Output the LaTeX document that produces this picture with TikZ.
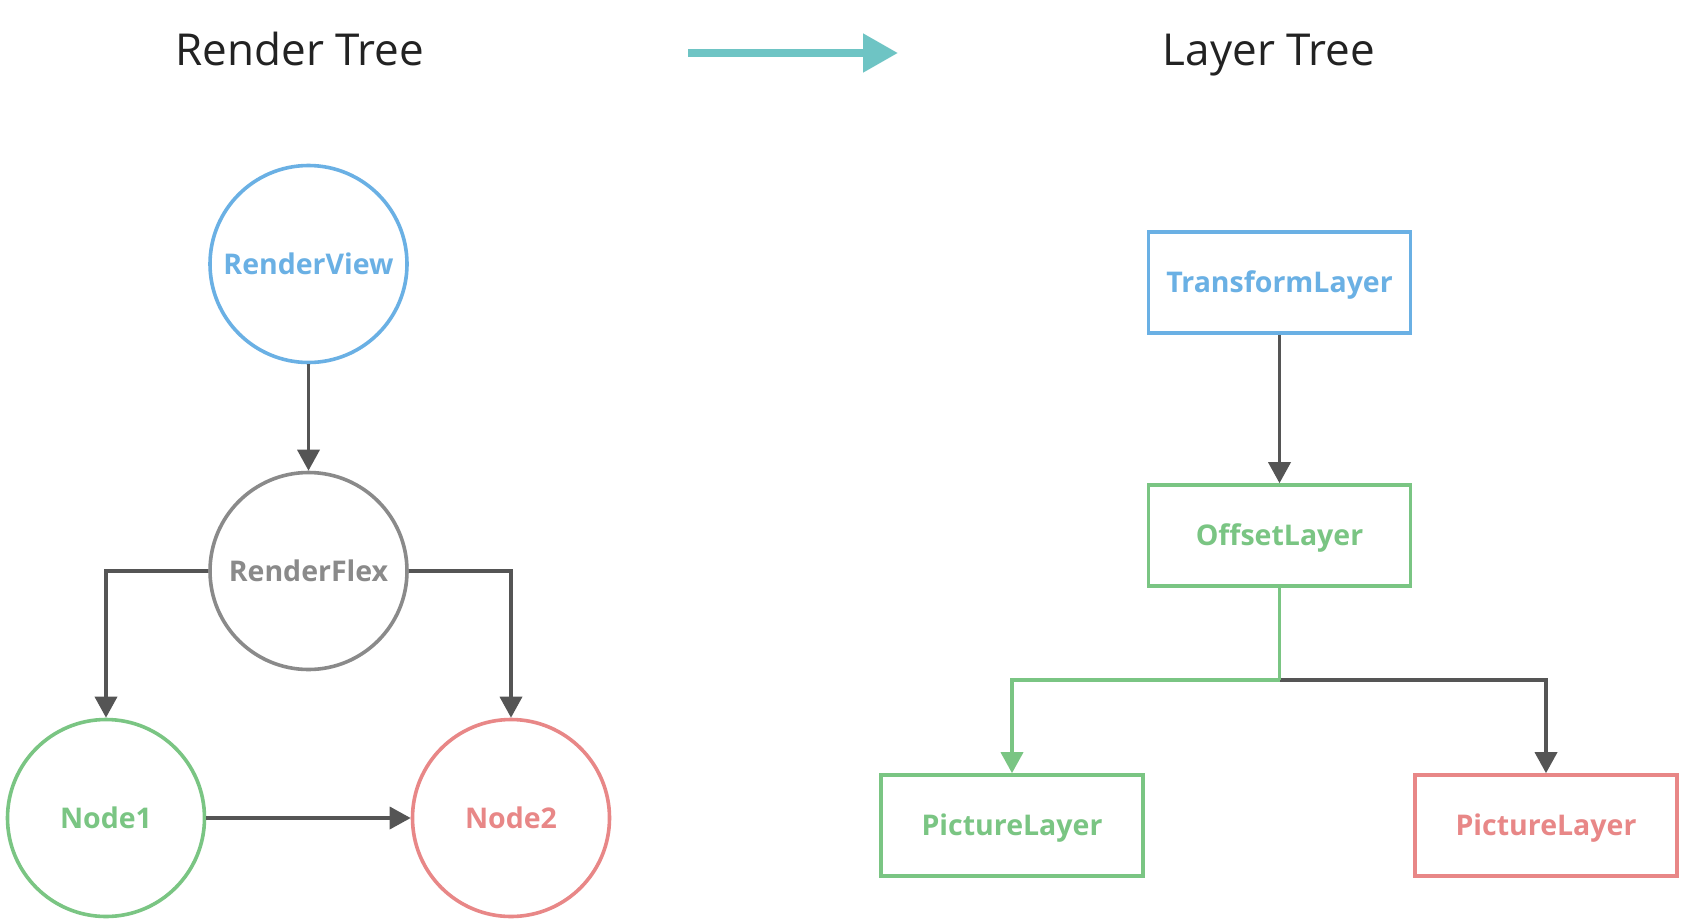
\documentclass[tikz,border=0pt]{standalone}
\usepackage{fontspec}
\setmainfont{Open Sans}
\usetikzlibrary{arrows.meta,calc}
\definecolor{cblue}{HTML}{6AB0E4}
\definecolor{cgray}{HTML}{8A8A8A}
\definecolor{cgreen}{HTML}{7AC583}
\definecolor{cred}{HTML}{E88787}
\definecolor{cteal}{HTML}{6EC4C4}
\definecolor{cdark}{HTML}{555555}
\definecolor{ctitle}{HTML}{222222}
\tikzset{
  title/.style={font=\fontsize{44}{50}\selectfont, text=ctitle, anchor=base},
  circ/.style={circle, draw=#1, text=#1, line width=3.6pt, minimum size=197pt, inner sep=0pt,
    font=\bfseries\fontsize{28.5}{31}\selectfont, text height=20.5pt, text depth=0pt},
  boxnode/.style={rectangle, draw=#1, text=#1, line width=3.6pt, minimum width=262pt, minimum height=101pt, inner sep=0pt,
    font=\bfseries\fontsize{28.5}{31}\selectfont, text height=20.5pt, text depth=0pt},
  conn/.style={draw=#1, line width=3.6pt, -{Triangle[length=21pt,width=22pt,fill=#1]}},
  plainconn/.style={draw=#1, line width=3.6pt},
}
\begin{document}
\begin{tikzpicture}[x=1pt,y=-1pt]
\useasboundingbox[fill=white] (0,0) rectangle (1685,921);
% titles
\node[title] (t1) at (300,65) {Render Tree};
\node[title] (t2) at (1269,65) {Layer Tree};
\coordinate (as) at (688,53);
\coordinate (ae) at (898,53);
\draw[cteal, line width=8pt, -{Triangle[length=35pt,width=37pt]}] (as) -- (ae);
% render tree
\node[circ=cblue] (rv) at (308.5,264) {RenderView};
\node[circ=cgray] (rf) at (308.5,571) {RenderFlex};
\node[circ=cgreen] (n1) at (106,818) {Node1};
\node[circ=cred] (n2) at (511,818) {Node2};
\draw[conn=cdark] (rv) -- (rf);
\draw[conn=cdark] (rf.west) -| (n1.north);
\draw[conn=cdark] (rf.east) -| (n2.north);
\draw[conn=cdark] (n1) -- (n2);
% layer tree
\node[boxnode=cblue] (tl) at (1279.5,282.5) {TransformLayer};
\node[boxnode=cgreen] (ol) at (1279.5,535.5) {OffsetLayer};
\node[boxnode=cgreen] (pl1) at (1012,825.5) {PictureLayer};
\node[boxnode=cred] (pl2) at (1546,825.5) {PictureLayer};
\draw[conn=cdark] (tl) -- (ol);
\path (ol.south) ++(0,92) coordinate (br);
\draw[conn=cdark] (br) -| (pl2.north);
\draw[plainconn=cgreen] (ol.south) -- (br);
\draw[conn=cgreen] (br) -| (pl1.north);
\end{tikzpicture}
\end{document}
